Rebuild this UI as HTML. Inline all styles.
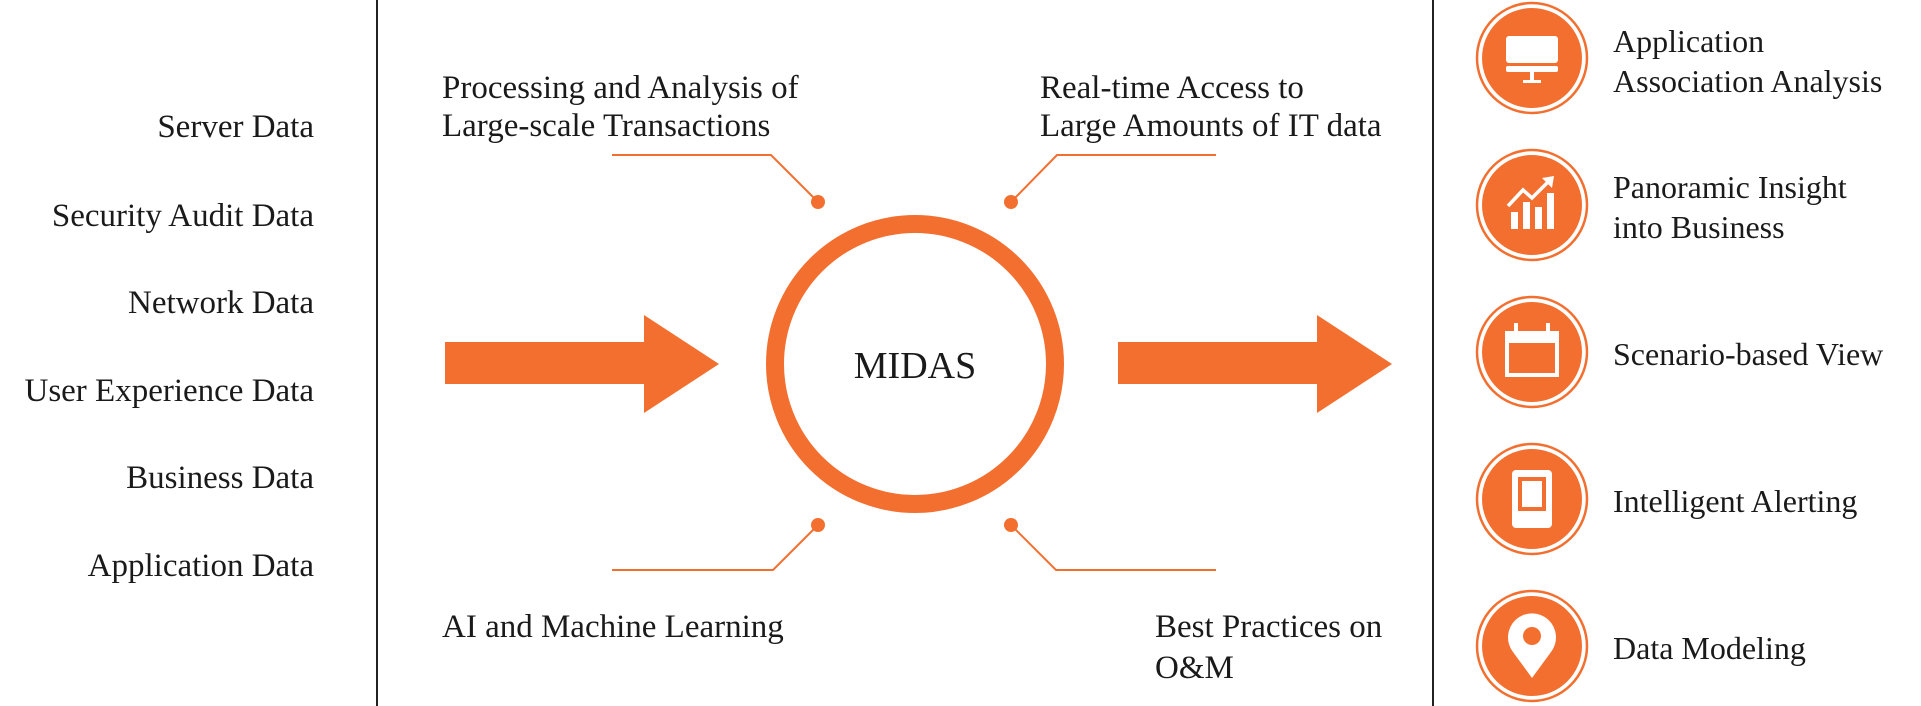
<!DOCTYPE html>
<html><head><meta charset="utf-8"><style>
html,body{margin:0;padding:0;background:#fff}
svg{display:block}
text{font-family:"Liberation Serif",serif;fill:#1a1a1a}
</style></head><body>
<svg width="1921" height="706" viewBox="0 0 1921 706" xmlns="http://www.w3.org/2000/svg">
<line x1="377" y1="0" x2="377" y2="706" stroke="#222" stroke-width="2"/>
<line x1="1433" y1="0" x2="1433" y2="706" stroke="#222" stroke-width="2"/>
<g font-size="33" text-anchor="end" dominant-baseline="central">
<text x="314" y="127">Server Data</text>
<text x="314" y="216">Security Audit Data</text>
<text x="314" y="303">Network Data</text>
<text x="314" y="391">User Experience Data</text>
<text x="314" y="478">Business Data</text>
<text x="314" y="566">Application Data</text>
</g>
<g fill="#f36f2f">
<rect x="445" y="342" width="200" height="42"/>
<polygon points="644,315 719,364 644,413"/>
<rect x="1118" y="342" width="200" height="42"/>
<polygon points="1317,315 1392,364 1317,413"/>
<circle cx="818" cy="202" r="7"/><circle cx="1011" cy="202" r="7"/>
<circle cx="818" cy="525" r="7"/><circle cx="1011" cy="525" r="7"/>
</g>
<circle cx="915" cy="364" r="140" fill="none" stroke="#f36f2f" stroke-width="18"/>
<text x="915" y="366" font-size="38" text-anchor="middle" dominant-baseline="central">MIDAS</text>
<g fill="none" stroke="#f36f2f" stroke-width="2">
<polyline points="612,155 771,155 818,202"/>
<polyline points="1216,155 1057,155 1011,202"/>
<polyline points="612,570 773,570 818,525"/>
<polyline points="1216,570 1056,570 1011,525"/>
</g>
<g font-size="33" dominant-baseline="central">
<text x="442" y="88">Processing and Analysis of</text>
<text x="442" y="126">Large-scale Transactions</text>
<text x="1040" y="88">Real-time Access to</text>
<text x="1040" y="126">Large Amounts of IT data</text>
<text x="442" y="627">AI and Machine Learning</text>
<text x="1155" y="627">Best Practices on</text>
<text x="1155" y="668">O&amp;M</text>
</g>
<g>
<g transform="translate(1532,58)"><circle r="55" fill="none" stroke="#f36f2f" stroke-width="2.5"/><circle r="50" fill="#f36f2f"/>
<rect x="-26" y="-22" width="52" height="27" rx="3" fill="#fff"/><rect x="-26" y="8" width="52" height="6" rx="2" fill="#fff"/><rect x="-2" y="14" width="4" height="9" fill="#fff"/><rect x="-9" y="22" width="18" height="3" fill="#fff"/></g>
<g transform="translate(1532,205)"><circle r="55" fill="none" stroke="#f36f2f" stroke-width="2.5"/><circle r="50" fill="#f36f2f"/>
<rect x="-21" y="7" width="7" height="17" fill="#fff"/><rect x="-9" y="-3" width="7" height="27" fill="#fff"/><rect x="3" y="2" width="7" height="22" fill="#fff"/><rect x="15" y="-12" width="7" height="36" fill="#fff"/>
<polyline points="-24,1 -9,-15 0,-7 18,-25" fill="none" stroke="#fff" stroke-width="3.5"/><polygon points="22,-29 10,-27 20,-17" fill="#fff"/></g>
<g transform="translate(1532,352)"><circle r="55" fill="none" stroke="#f36f2f" stroke-width="2.5"/><circle r="50" fill="#f36f2f"/>
<rect x="-25" y="-19" width="50" height="42" fill="none" stroke="#fff" stroke-width="4"/><rect x="-25" y="-19" width="50" height="10" fill="#fff"/><rect x="-18" y="-29" width="4" height="12" fill="#fff"/><rect x="14" y="-29" width="4" height="12" fill="#fff"/></g>
<g transform="translate(1532,499)"><circle r="55" fill="none" stroke="#f36f2f" stroke-width="2.5"/><circle r="50" fill="#f36f2f"/>
<rect x="-20" y="-29" width="40" height="58" rx="4" fill="#fff"/><rect x="-14" y="-22" width="28" height="34" fill="#f36f2f"/><rect x="-10" y="-18" width="20" height="26" fill="#fff"/></g>
<g transform="translate(1532,646)"><circle r="55" fill="none" stroke="#f36f2f" stroke-width="2.5"/><circle r="50" fill="#f36f2f"/>
<path d="M0,32 L-19,6 A24,24 0 1 1 19,6 Z" fill="#fff"/><circle cx="0" cy="-10" r="9" fill="#f36f2f"/></g>
</g>
<g font-size="32" dominant-baseline="central">
<text x="1613" y="41">Application</text>
<text x="1613" y="81">Association Analysis</text>
<text x="1613" y="187">Panoramic Insight</text>
<text x="1613" y="227">into Business</text>
<text x="1613" y="354">Scenario-based View</text>
<text x="1613" y="501">Intelligent Alerting</text>
<text x="1613" y="648">Data Modeling</text>
</g>
</svg>
</body></html>
